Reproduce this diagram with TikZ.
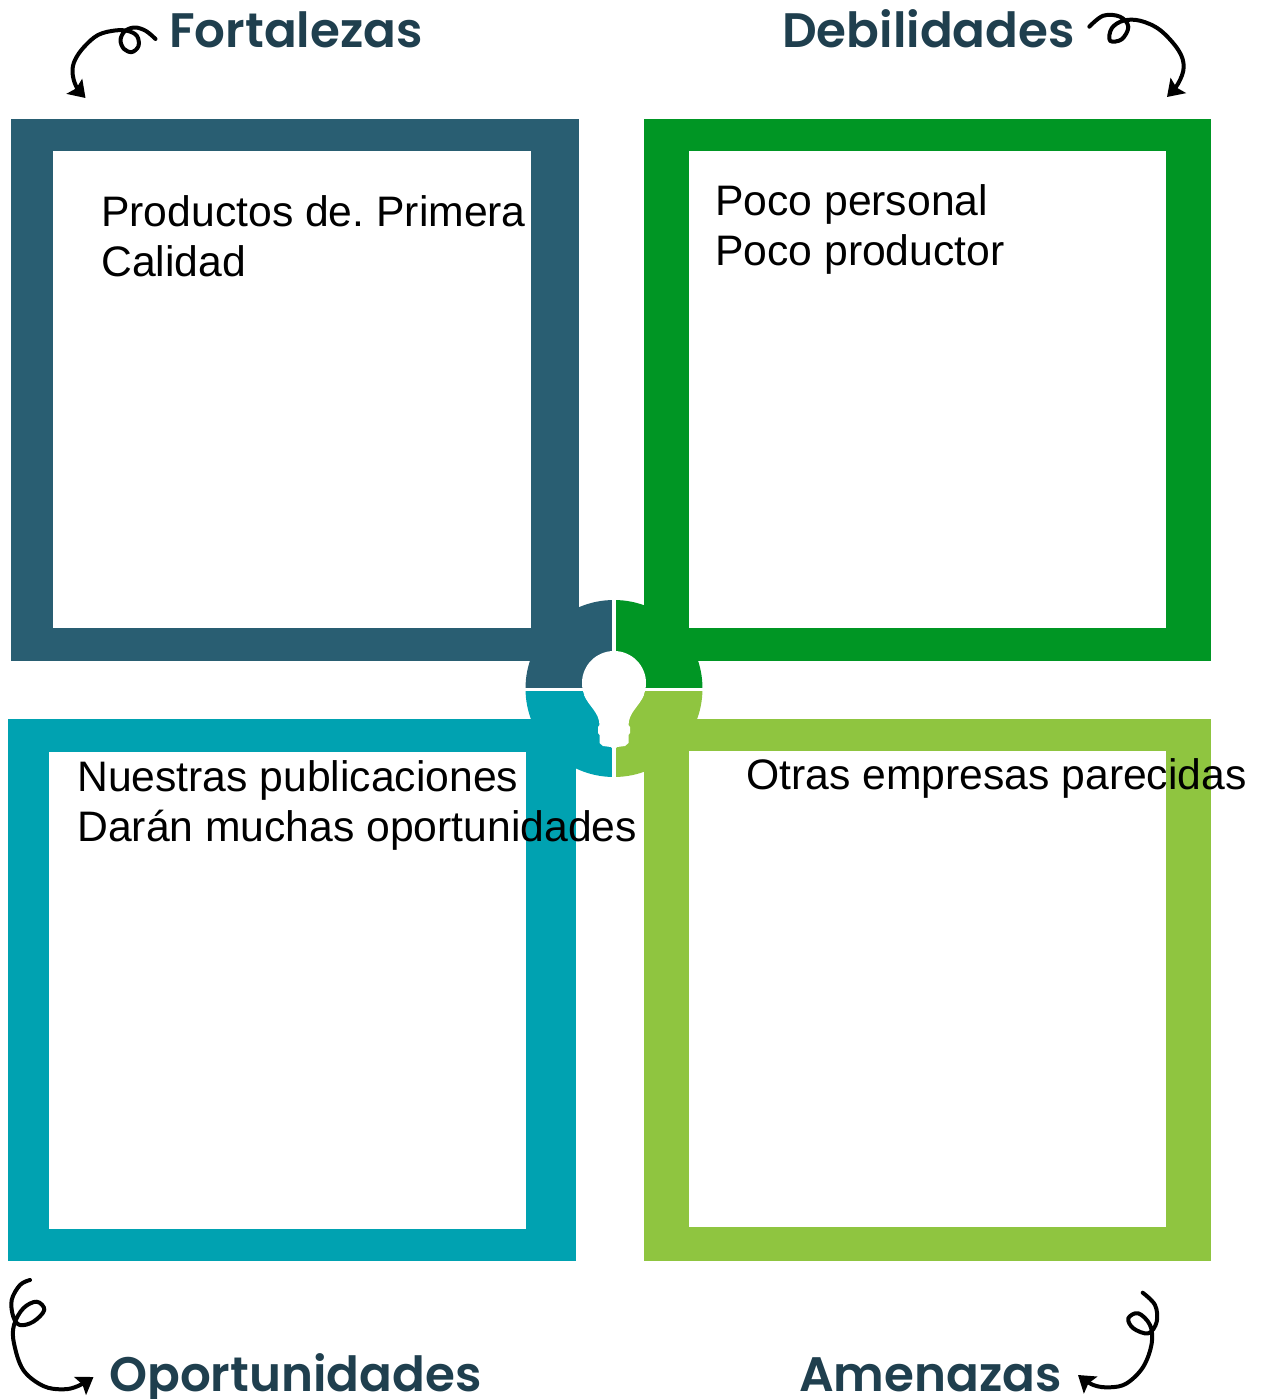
\documentclass[tikz,border=0pt]{standalone}
\usepackage{fontspec}
\setmainfont{Liberation Sans}
\newfontfamily\headfont{Poppins}[BoldFont={Poppins SemiBold}]
\usetikzlibrary{arrows.meta}
\definecolor{fodablue}{HTML}{295E72}
\definecolor{fodagreen}{HTML}{009624}
\definecolor{fodateal}{HTML}{00A2B1}
\definecolor{fodalime}{HTML}{8FC540}
\definecolor{fodahead}{HTML}{1F3F4E}
\tikzset{
	headlabel/.style={anchor=base west,inner sep=0pt,text=fodahead,font=\headfont\bfseries\fontsize{36.3}{42}\selectfont},
	bodylabel/.style={anchor=base west,inner sep=0pt,align=left,font=\frenchspacing\fontsize{32}{37.5}\selectfont},
	curlyarrow/.style={->,line width=3pt,line cap=round,line join=round},
	gapline/.style={white,line width=2.4pt}
}
\begin{document}
\begin{tikzpicture}[x=.75pt,y=-.75pt,>={Stealth[length=12pt,width=16pt,inset=2pt]}]
	 \useasboundingbox (0,0) rectangle (1263,1399);
	 % marcos
	 \fill[fodablue] (11,119) rectangle (579,661);
	 \fill[white] (53,151) rectangle (531,628);
	 \fill[fodagreen] (644,119) rectangle (1211,661);
	 \fill[white] (689,151) rectangle (1166,628);
	 \fill[fodateal] (8,719) rectangle (576,1261);
	 \fill[white] (49,752) rectangle (526,1229);
	 \fill[fodalime] (644,719) rectangle (1211,1261);
	 \fill[white] (689,751) rectangle (1166,1227);
	 % circulo central
	 \fill[fodablue] (614,688.5)--(525.5,688.5)arc(180:270:88.5)--cycle;
	 \fill[fodagreen] (614,688.5)--(614,600)arc(270:360:88.5)--cycle;
	 \fill[fodateal] (614,688.5)--(525.5,688.5)arc(180:90:88.5)--cycle;
	 \fill[fodalime] (614,688.5)--(702.5,688.5)arc(0:90:88.5)--cycle;
	 \draw[gapline,line width=2.7pt] (614,598)--(614,779);
	 \draw[gapline] (524,689.8)--(704,689.8);
	 % foco
	 \fill[white] (614,683) circle (32);
	 \fill[white] (584,695)..controls (590,708) and (599,712)..(599.5,725)--(598,727)--(598,733)--(599.5,735)--(599.5,743)--(603,746)--(611,747)--(614,750)
	 --(617,747)--(625,746)--(628.5,743)--(628.5,735)--(630,733)--(630,727)--(628.5,725)..controls (629,712) and (638,708)..(644,695)--cycle;
	 % flechas
	 \draw[curlyarrow] plot[smooth,tension=.6] coordinates {(155.5,39)(146,31)(135,27.5)(125,31)(120.5,40)(124,49)(132,52)(138.5,46)(137,36)(128,31)(115,30.5)(98,35)(84,47)(75,60)(72.5,72)(76,86)(85.5,98)};
	 \draw[curlyarrow] plot[smooth,tension=.6] coordinates {(1089.3,26.7)(1103.3,15.7)(1120,16.7)(1128.3,26.7)(1121.7,39.3)(1110,40.7)(1111.7,28.3)(1123.3,20.7)(1140,20.7)(1160,30)(1178.3,50)(1183.7,66.7)(1178.3,83.3)(1167,97)};
	 \draw[curlyarrow] plot[smooth,tension=.6] coordinates {(30,1280)(20,1285)(11.7,1300)(13.3,1316.7)(20,1325)(33.3,1321.7)(44.3,1310)(36.7,1301.7)(23.3,1308.3)(14,1325)(14,1343.3)(23.3,1370)(43.3,1386)(63.3,1389.3)(78,1386)(93.5,1377)};
	 \draw[curlyarrow] plot[smooth,tension=.6] coordinates {(1142.7,1292.7)(1155,1305)(1156.7,1321.7)(1148.3,1333.3)(1133.3,1328.3)(1128.3,1318.3)(1138.3,1313.3)(1150,1325)(1151.7,1343.3)(1143.3,1366.7)(1126.7,1383.3)(1110,1387.3)(1093.3,1385)(1078,1375)};
	 % titulos
	 \node[headlabel] (fortalezas) at (169,47) {Fortalezas};
	 \node[headlabel] (debilidades) at (782,47) {Debilidades};
	 \node[headlabel] (oportunidades) at (109,1391) {Oportunidades};
	 \node[headlabel] (amenazas) at (799,1391) {Amenazas};
	 % textos
	 \node[bodylabel] (txtfort) at (101,276) {Productos de. Primera\\Calidad};
	 \node[bodylabel] (txtdeb) at (715,265) {Poco personal\\Poco productor};
	 \node[bodylabel] (txtop) at (77,841) {Nuestras publicaciones\\Darán muchas oportunidades};
	 \node[bodylabel] (txtam) at (746,789) {Otras empresas parecidas};
\end{tikzpicture}
\end{document}
